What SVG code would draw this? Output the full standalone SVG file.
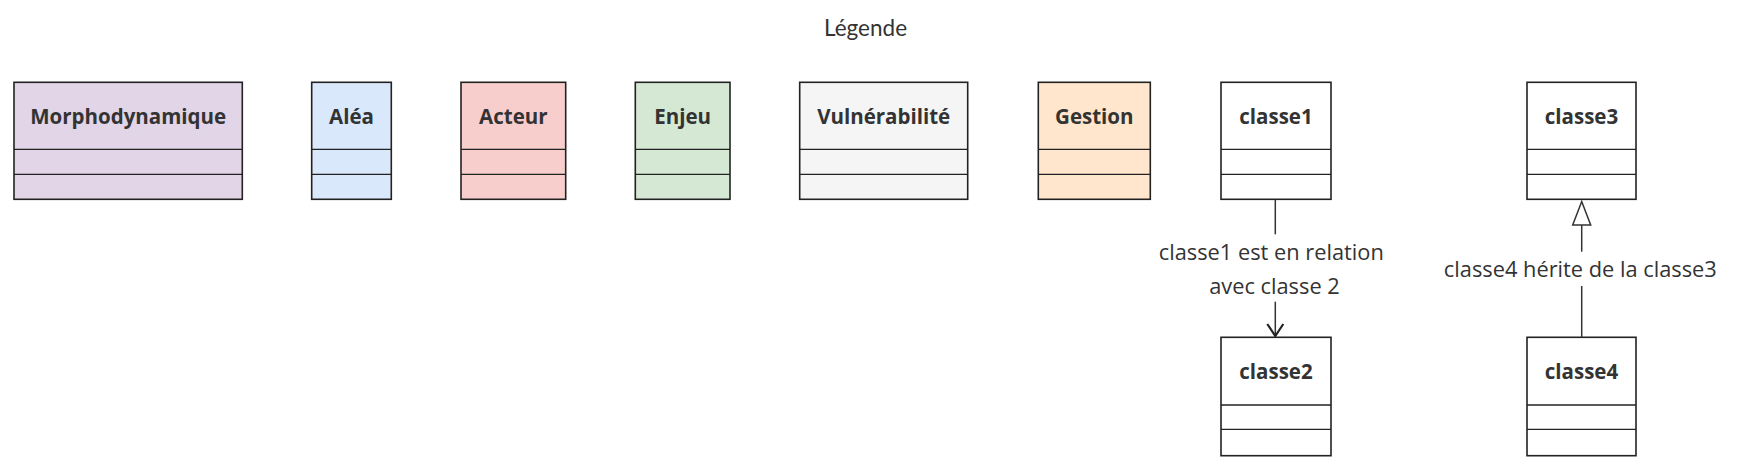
<svg xmlns="http://www.w3.org/2000/svg" width="1738" height="469" viewBox="0 0 1738 469">
<style>
.box{stroke:#222;stroke-width:1.6}
.div{stroke:#222;stroke-width:1.3}
.t{font-family:"Open Sans","DejaVu Sans",sans-serif;font-weight:bold;font-size:20.5px;fill:#333;text-anchor:middle}
.l{font-family:"Open Sans","DejaVu Sans",sans-serif;font-size:21.8px;fill:#333;text-anchor:middle}
.edge{stroke:#333;stroke-width:1.5;fill:none}
</style>
<rect width="1738" height="469" fill="#fff"/>
<text x="865.5" y="36" font-family="Lato,'Open Sans',sans-serif" font-size="22.5" fill="#333" text-anchor="middle">Légende</text>

<g id="Morphodynamique"><rect class="box" x="14" y="82.3" width="228.3" height="117" fill="#e1d5e7"/><line class="div" x1="14" y1="149.3" x2="242.3" y2="149.3"/><line class="div" x1="14" y1="174.3" x2="242.3" y2="174.3"/><text class="t" x="128.2" y="123.5">Morphodynamique</text></g>
<g id="Alea"><rect class="box" x="311.7" y="82.3" width="79.6" height="117" fill="#dae8fc"/><line class="div" x1="311.7" y1="149.3" x2="391.3" y2="149.3"/><line class="div" x1="311.7" y1="174.3" x2="391.3" y2="174.3"/><text class="t" x="351.5" y="123.5">Aléa</text></g>
<g id="Acteur"><rect class="box" x="461" y="82.3" width="104.7" height="117" fill="#f8cecc"/><line class="div" x1="461" y1="149.3" x2="565.7" y2="149.3"/><line class="div" x1="461" y1="174.3" x2="565.7" y2="174.3"/><text class="t" x="513.3" y="123.5">Acteur</text></g>
<g id="Enjeu"><rect class="box" x="635.3" y="82.3" width="94.7" height="117" fill="#d5e8d4"/><line class="div" x1="635.3" y1="149.3" x2="730" y2="149.3"/><line class="div" x1="635.3" y1="174.3" x2="730" y2="174.3"/><text class="t" x="682.6" y="123.5">Enjeu</text></g>
<g id="Vulnerabilite"><rect class="box" x="799.7" y="82.3" width="168" height="117" fill="#f5f5f5"/><line class="div" x1="799.7" y1="149.3" x2="967.7" y2="149.3"/><line class="div" x1="799.7" y1="174.3" x2="967.7" y2="174.3"/><text class="t" x="883.7" y="123.5">Vulnérabilité</text></g>
<g id="Gestion"><rect class="box" x="1038.3" y="82.3" width="112" height="117" fill="#ffe6cc"/><line class="div" x1="1038.3" y1="149.3" x2="1150.3" y2="149.3"/><line class="div" x1="1038.3" y1="174.3" x2="1150.3" y2="174.3"/><text class="t" x="1094.3" y="123.5">Gestion</text></g>
<g id="classe1"><rect class="box" x="1221" y="82.3" width="110" height="117" fill="#fff"/><line class="div" x1="1221" y1="149.3" x2="1331" y2="149.3"/><line class="div" x1="1221" y1="174.3" x2="1331" y2="174.3"/><text class="t" x="1276" y="123.5">classe1</text></g>
<g id="classe2"><rect class="box" x="1221" y="337.3" width="110" height="118.4" fill="#fff"/><line class="div" x1="1221" y1="405" x2="1331" y2="405"/><line class="div" x1="1221" y1="429.3" x2="1331" y2="429.3"/><text class="t" x="1276" y="379">classe2</text></g>
<g id="classe3"><rect class="box" x="1527" y="82.3" width="109" height="117" fill="#fff"/><line class="div" x1="1527" y1="149.3" x2="1636" y2="149.3"/><line class="div" x1="1527" y1="174.3" x2="1636" y2="174.3"/><text class="t" x="1581.5" y="123.5">classe3</text></g>
<g id="classe4"><rect class="box" x="1527" y="337.3" width="109" height="118.4" fill="#fff"/><line class="div" x1="1527" y1="405" x2="1636" y2="405"/><line class="div" x1="1527" y1="429.3" x2="1636" y2="429.3"/><text class="t" x="1581.5" y="379">classe4</text></g>

<g id="connectors">
<path class="edge" d="M1275.3,199.3 V234.3"/>
<path class="edge" d="M1275.3,301.7 V335.5"/>
<path d="M1267.3,324 L1275.3,336 L1283.3,324" fill="none" stroke="#222" stroke-width="2.2"/>
<text class="l" x="1271.3" y="260">classe1 est en relation</text>
<text class="l" x="1274.5" y="294">avec classe 2</text>
<path class="edge" d="M1581.7,337.3 V286"/>
<path class="edge" d="M1581.7,251.7 V225"/>
<path d="M1581.7,201.5 L1590.7,225 L1572.7,225 Z" fill="#fff" stroke="#333" stroke-width="1.5"/>
<text class="l" x="1580.3" y="276.7">classe4 hérite de la classe3</text>
</g>
</svg>
